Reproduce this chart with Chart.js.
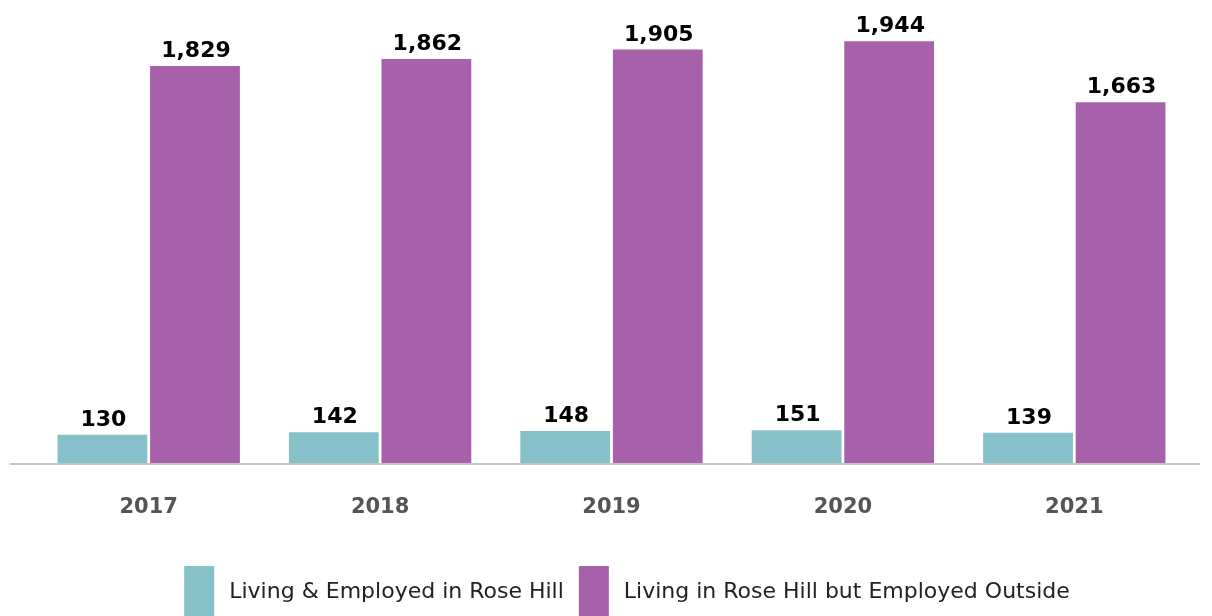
<!DOCTYPE html>
<html>
<head>
<meta charset="utf-8">
<script src="https://cdn.jsdelivr.net/npm/chart.js@4/dist/chart.umd.min.js"></script>
<style>
  html, body { margin: 0; padding: 0; background: #fff; }
  #wrap { width: 1212px; height: 616px; }
</style>
</head>
<body>
<div id="wrap"><canvas id="c" width="1212" height="616"></canvas></div>
<script>
// commuting figures for Rose Hill, 2017-2021
const years = ["2017", "2018", "2019", "2020", "2021"];
const livingAndEmployed = [130, 142, 148, 151, 139];
const employedOutside = [1829, 1862, 1905, 1944, 1663];
const seriesNames = ["Living & Employed in Rose Hill", "Living in Rose Hill but Employed Outside"];

const teal = "#86c0c8";
const purple = "#a661aa";

// value labels on top of each bar
const barLabels = {
    id: "barLabels",
    afterDatasetsDraw(chart) {
        const ctx = chart.ctx;
        ctx.save();
        ctx.font = "bold 22px 'DejaVu Sans'";
        ctx.fillStyle = "#000";
        ctx.textAlign = "center";
        ctx.textBaseline = "alphabetic";
        chart.data.datasets.forEach((ds, i) => {
            chart.getDatasetMeta(i).data.forEach((bar, j) => {
                ctx.fillText(ds.data[j].toLocaleString("en-US"), bar.x + 1, bar.y - 9);
            });
        });
        ctx.restore();
    }
};

// grey baseline running wider than the plot area
const baseline = {
    id: "baseline",
    afterDatasetsDraw(chart) {
        const ctx = chart.ctx;
        const y = chart.scales.y.getPixelForValue(0);
        ctx.save();
        ctx.strokeStyle = "#c4c4c4";
        ctx.lineWidth = 2;
        ctx.beginPath();
        ctx.moveTo(10, y + 1);
        ctx.lineTo(1200, y + 1);
        ctx.stroke();
        ctx.restore();
    }
};

// legend: tall colour boxes with wider gap before the text
const boxLegend = {
    id: "boxLegend",
    afterDraw(chart) {
        const ctx = chart.ctx;
        ctx.save();
        ctx.font = "22px 'DejaVu Sans'";
        ctx.textBaseline = "middle";
        ctx.textAlign = "left";
        const boxW = 30, gap = 15, itemGap = 15;
        const items = chart.data.datasets.map(ds => ({ text: ds.label, color: ds.backgroundColor, w: ctx.measureText(ds.label).width }));
        const total = items.reduce((s, it) => s + boxW + gap + it.w, 0) + itemGap * (items.length - 1);
        let x = 627 - total / 2;
        items.forEach(it => {
            ctx.fillStyle = it.color;
            ctx.fillRect(x, 566, boxW, 50);
            ctx.fillStyle = "#222";
            ctx.fillText(it.text, x + boxW + gap, 592);
            x += boxW + gap + it.w + itemGap;
        });
        ctx.restore();
    }
};

new Chart(document.getElementById("c"), {
    type: "bar",
    data: {
        labels: years,
        datasets: [
            { label: seriesNames[0], data: livingAndEmployed, backgroundColor: teal },
            { label: seriesNames[1], data: employedOutside, backgroundColor: purple }
        ]
    },
    options: {
        responsive: false,
        animation: false,
        events: [],
        layout: { padding: { top: 29, left: 33, right: 22, bottom: 73 } },
        datasets: { bar: { categoryPercentage: 0.8, barPercentage: 0.97 } },
        scales: {
            x: {
                grid: { display: false, drawTicks: false },
                border: { display: false },
                ticks: {
                    color: "#555",
                    padding: 32,
                    font: { family: "DejaVu Sans", size: 21, weight: "bold" }
                },
                afterFit(scale) { scale.height = 80; }
            },
            y: {
                display: false,
                min: 0,
                max: 2000
            }
        },
        plugins: {
            legend: { display: false },
            tooltip: { enabled: false }
        }
    },
    plugins: [barLabels, baseline, boxLegend]
});
</script>
</body>
</html>
